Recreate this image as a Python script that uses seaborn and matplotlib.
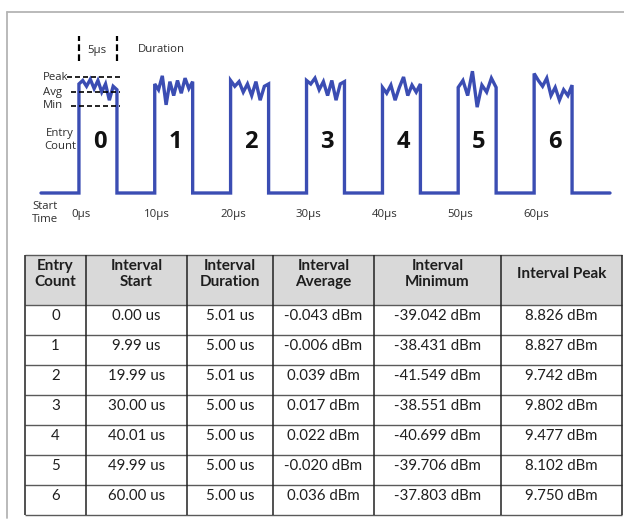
import numpy as np
import pandas as pd
import matplotlib
matplotlib.use("Agg")
import matplotlib.pyplot as plt
from matplotlib.lines import Line2D
import seaborn as sns

# ---------------- data ----------------
entry_count = [0, 1, 2, 3, 4, 5, 6]
interval_start_us = [0.00, 9.99, 19.99, 30.00, 40.01, 49.99, 60.00]
interval_duration_us = [5.01, 5.00, 5.01, 5.00, 5.00, 5.00, 5.00]
interval_average_dbm = [-0.043, -0.006, 0.039, 0.017, 0.022, -0.020, 0.036]
interval_minimum_dbm = [-39.042, -38.431, -41.549, -38.551, -40.699, -39.706, -37.803]
interval_peak_dbm = [8.826, 8.827, 9.742, 9.802, 9.477, 8.102, 9.750]

table_headers = ["Entry\nCount", "Interval\nStart", "Interval\nDuration",
                 "Interval\nAverage", "Interval\nMinimum", "Interval Peak"]

# schematic pulse-top wiggles (relative level)
pulse_tops = [
    [94, 97, 92, 98, 90, 97, 87, 94, 80, 92, 89],
    [94, 89, 101, 76, 96, 84, 97, 86, 99, 90, 96],
    [97, 92, 96, 87, 94, 84, 96, 80, 92, 94],
    [97, 94, 99, 89, 96, 84, 97, 80, 94, 96],
    [91, 86, 93, 80, 91, 100, 84, 93, 87, 94],
    [91, 97, 84, 105, 74, 93, 87, 99, 91],
    [103, 97, 92, 99, 84, 91, 80, 89, 84, 93],
]
marker_labels = ["Peak", "Avg", "Min"]
marker_levels = [100, 87, 75]
time_ticks = [0, 10, 20, 30, 40, 50, 60]
time_tick_labels = ["0µs", "10µs", "20µs", "30µs", "40µs", "50µs", "60µs"]
trace_start_us, trace_end_us = -5, 70

# ---------------- build trace ----------------
xs, ys = [trace_start_us], [0]
for s, d, tops in zip(interval_start_us, interval_duration_us, pulse_tops):
    xs.append(s); ys.append(0)
    for xi, yi in zip(np.linspace(s, s + d, len(tops)), tops):
        xs.append(xi); ys.append(yi)
    xs.append(s + d); ys.append(0)
xs.append(trace_end_us); ys.append(0)
trace = pd.DataFrame({"t": xs, "level": ys})

# ---------------- figure ----------------
sns.set_style("white")
plt.rcParams["font.family"] = ["Open Sans", "DejaVu Sans"]

W, H = 624, 523
fig = plt.figure(figsize=(W / 100, H / 100), dpi=100)
fig.patch.set_facecolor("white")


def fx(px):
    return px / W


def fy(py):
    return 1 - py / H


def lvl(py):
    return (193 - py) / 1.16


# outer frame (top + left)
fig.add_artist(Line2D([fx(7), fx(624)], [fy(12), fy(12)], transform=fig.transFigure,
                      color="#b4b4b4", lw=1.3))
fig.add_artist(Line2D([fx(7), fx(7)], [fy(12), fy(518)], transform=fig.transFigure,
                      color="#b4b4b4", lw=1.3))

# diagram axes
ax = fig.add_axes([fx(41), fy(230), fx(610) - fx(41), fy(20) - fy(230)])
ax.set_xlim(trace_start_us, trace_end_us)
ax.set_ylim(lvl(230), lvl(20))
ax.axis("off")

sns.lineplot(data=trace, x="t", y="level", sort=False, estimator=None, ax=ax,
             color="#3b4db3", lw=2.4, solid_joinstyle="miter", clip_on=False)

txt_col = "#2e2e2e"
# Peak / Avg / Min reference lines
starts = [-1.6, -1.05, -1.05]
for lab, lev, x0 in zip(marker_labels, marker_levels, starts):
    ax.hlines(lev, x0, 5.4, colors="black", lw=1.2, linestyles=(0, (3, 1.8)), zorder=3)
    ax.text(-4.75, lev, lab, ha="left", va="center", fontsize=8.2, color=txt_col)

# duration markers
for t in (interval_start_us[0], interval_start_us[0] + 5):
    ax.vlines(t, lvl(61), lvl(36), colors="black", lw=1.6, linestyles=(0, (3, 1.5)))
ax.text(2.3, lvl(50), "5µs", ha="center", va="center", fontsize=8.2, color=txt_col)
fig.text(fx(138), fy(50), "Duration", ha="left", va="center", fontsize=8.2, color=txt_col)

# entry count digits
for c, s, d in zip(entry_count, interval_start_us, interval_duration_us):
    ax.text(s + d / 2 + 0.2, lvl(142), str(c), ha="center", va="center",
            fontsize=17, fontweight="bold", color="#111111")
fig.text(fx(60), fy(140), "Entry\nCount", ha="center", va="center", fontsize=8.2,
         color=txt_col, linespacing=1.2)
fig.text(fx(32), fy(213), "Start\nTime", ha="left", va="center", fontsize=8.2,
         color=txt_col, linespacing=1.15)

for t, lab in zip(time_ticks, time_tick_labels):
    ax.text(t + 0.3, lvl(214), lab, ha="center", va="center", fontsize=8.2, color=txt_col)

# ---------------- table ----------------
col_edges = [25, 86, 187, 273, 374, 501, 622]
header_top, header_bottom, row_h = 255, 305, 30
row_edges = [header_top, header_bottom] + [header_bottom + row_h * (i + 1) for i in range(len(entry_count))]
table_bottom = row_edges[-1]

tax = fig.add_axes([fx(col_edges[0]), fy(table_bottom), fx(col_edges[-1]) - fx(col_edges[0]),
                    fy(header_top) - fy(table_bottom)])
tax.set_xlim(col_edges[0], col_edges[-1])
tax.set_ylim(table_bottom, header_top)
tax.axis("off")

tax.axhspan(header_top, header_bottom, facecolor="#d9d9d9", edgecolor="none")
tax.hlines(row_edges, col_edges[0], col_edges[-1], colors="#5a5a5a", lw=1.0, clip_on=False)
tax.vlines(col_edges, header_top, table_bottom, colors="#222222", lw=1.1, clip_on=False)

tfont = ["Lato", "DejaVu Sans"]
centers = [(a + b) / 2 for a, b in zip(col_edges[:-1], col_edges[1:])]
for cx, h in zip(centers, table_headers):
    tax.text(cx, 274, h, ha="center", va="center", fontsize=11, fontweight="bold",
             family=tfont, color="#1e1e1e", linespacing=1.2)

rows = zip(entry_count, interval_start_us, interval_duration_us,
           interval_average_dbm, interval_minimum_dbm, interval_peak_dbm)
for i, (c, s, d, a, mn, pk) in enumerate(rows):
    cells = [f"{c}", f"{s:.2f} us", f"{d:.2f} us", f"{a:.3f} dBm", f"{mn:.3f} dBm", f"{pk:.3f} dBm"]
    ty = row_edges[i + 1] + 10.5
    for cx, txt in zip(centers, cells):
        tax.text(cx, ty, txt, ha="center", va="center", fontsize=10.8,
                 family=tfont, color="#1e1e1e")

fig.savefig("out.png", dpi=100)
